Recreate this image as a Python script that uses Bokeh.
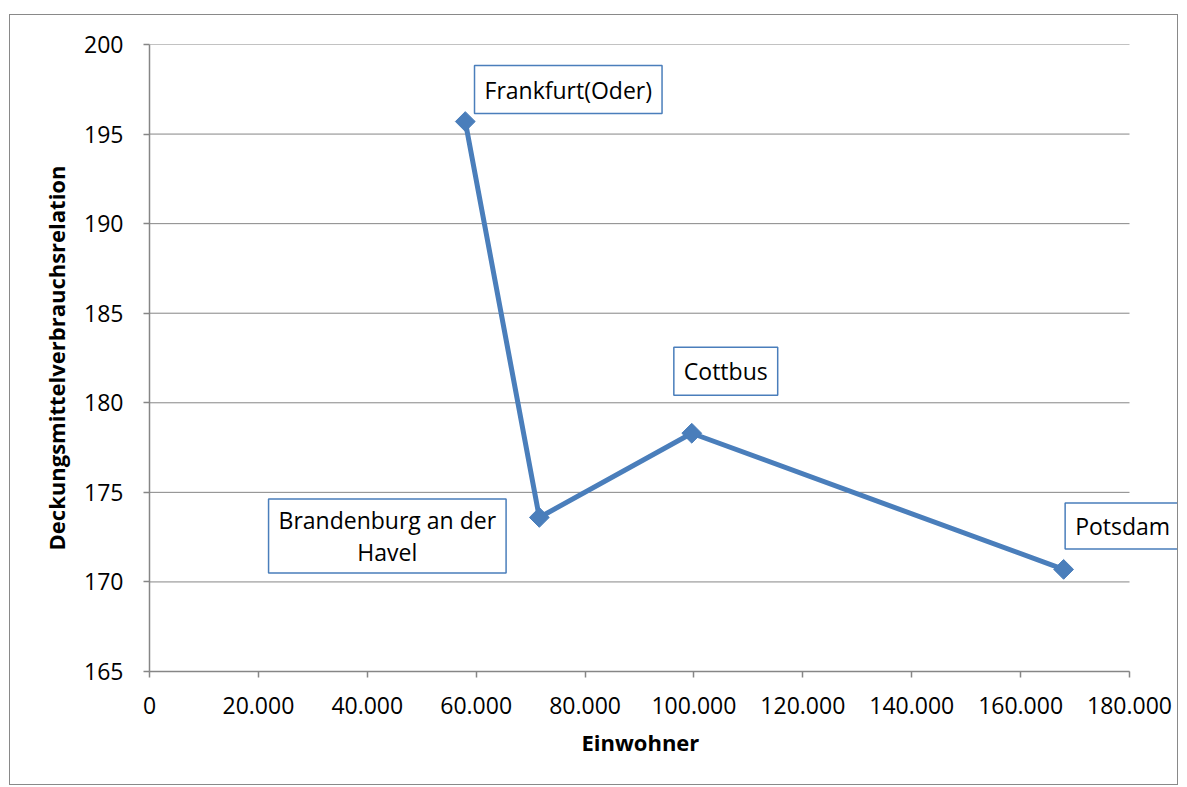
from bokeh.plotting import figure
from bokeh.models import Label, FixedTicker, Range1d, Title
from bokeh.embed import file_html
from bokeh.resources import INLINE
import math

# Data
cities = ["Frankfurt(Oder)", "Brandenburg an der\nHavel", "Cottbus", "Potsdam"]
einwohner = [58000, 71600, 99600, 167900]
relation = [195.7, 173.6, 178.3, 170.7]

x_ticks = [0, 20000, 40000, 60000, 80000, 100000, 120000, 140000, 160000, 180000]
x_tick_labels = ["0", "20.000", "40.000", "60.000", "80.000", "100.000", "120.000", "140.000", "160.000", "180.000"]
y_ticks = [165, 170, 175, 180, 185, 190, 195, 200]
x_min, x_max = 0, 180000

# label offsets (screen px) relative to the points, and vertical padding
label_dx = [103, -152, 34, 59]
label_dy = [32, -18.5, 62, 43.5]
label_pad_v = [8, 5, 8, 7]

FONT = "Open Sans"
BLUE = "#4A7EBB"
GRAY = "#868686"

# frame: 980 px covers 0..180000; extended 50 px to the right so labels aren't clipped
frame_w = 1030
x_end = x_max * frame_w / 980.0

p = figure(width=1169, height=771, output_backend="svg", toolbar_location=None,
           x_range=Range1d(x_min, x_end), y_range=Range1d(165, 200),
           min_border_left=139, min_border_right=0, min_border_top=29, min_border_bottom=115,
           styles={"border": "1px solid #898989", "margin-left": "9px", "margin-top": "14px"})
p.outline_line_color = None
p.background_fill_color = "white"
p.border_fill_color = "white"

p.xgrid.grid_line_color = None
p.ygrid.grid_line_color = None

# horizontal gridlines limited to the axis extent
p.segment(x0=[x_min] * len(y_ticks), x1=[x_max] * len(y_ticks), y0=y_ticks, y1=y_ticks,
          line_color=GRAY, line_width=1)

p.xaxis.ticker = FixedTicker(ticks=x_ticks)
p.xaxis.major_label_overrides = {t: l for t, l in zip(x_ticks, x_tick_labels)}
p.xaxis.bounds = (x_min, x_max)
p.yaxis.ticker = FixedTicker(ticks=y_ticks)

for ax in (p.xaxis[0], p.yaxis[0]):
    ax.axis_line_color = GRAY
    ax.axis_line_width = 1.5
    ax.major_tick_line_color = GRAY
    ax.major_tick_line_width = 1.5
    ax.major_tick_out = 6
    ax.major_tick_in = 0
    ax.minor_tick_line_color = None
    ax.major_label_text_font = FONT
    ax.major_label_text_font_size = "23px"
    ax.major_label_text_color = "black"
    ax.axis_label_text_font = FONT
    ax.axis_label_text_font_size = "22px"
    ax.axis_label_text_font_style = "bold"
    ax.axis_label_text_color = "black"

p.yaxis.axis_label = "Deckungsmittelverbrauchsrelation"
p.xaxis.major_label_standoff = 19
p.yaxis.major_label_standoff = 20
p.yaxis.axis_label_standoff = 10

# x-axis title placed under the middle of the 0..180000 axis (frame extends 50 px further right)
xtitle = Title(text="Einwohner", align="left", offset=432, standoff=16,
               text_font=FONT, text_font_size="22px", text_font_style="bold",
               text_color="black")
p.add_layout(xtitle, "below")

p.line(einwohner, relation, line_color=BLUE, line_width=5, line_join="round")
p.scatter(einwohner, relation, marker="square", angle=math.pi / 4, size=14,
          fill_color=BLUE, line_color=BLUE)

for name, xv, yv, dx, dy, pv in zip(cities, einwohner, relation, label_dx, label_dy, label_pad_v):
    lab = Label(x=xv, y=yv, text=name, x_offset=dx, y_offset=dy,
                text_align="center", text_baseline="middle",
                text_font=FONT, text_font_size="23px", text_color="black",
                text_line_height=1.0,
                border_line_color=BLUE, border_line_width=1.5,
                background_fill_color="white", padding=(10, pv))
    p.add_layout(lab)

open("out.html", "w").write(file_html(p, INLINE))
